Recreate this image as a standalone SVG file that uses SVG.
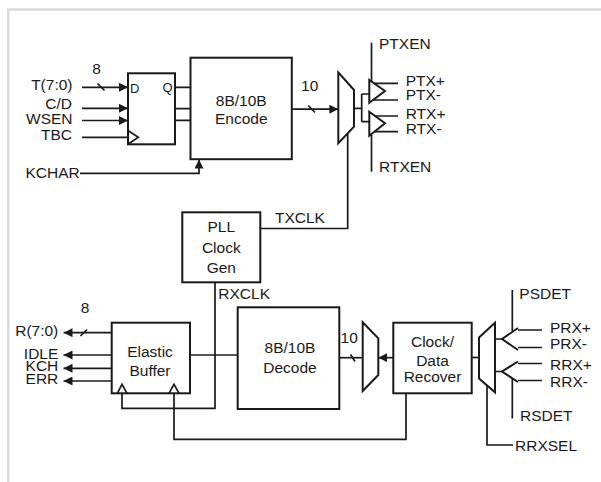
<svg xmlns="http://www.w3.org/2000/svg" width="601" height="482" viewBox="0 0 601 482">
<style>
text{font-family:"Liberation Sans",Arial,sans-serif;font-size:15.5px;fill:#1a1a1a}
.box{fill:#fff;stroke:#1a1a1a;stroke-width:2}
.sh{fill:#fff;stroke:#1a1a1a;stroke-width:2;stroke-linejoin:miter}
.ln{fill:none;stroke:#1a1a1a;stroke-width:1.7}
.m{text-anchor:middle}
.e{text-anchor:end}
.pin{font-size:13px}
</style>
<defs>
<marker id="ah" markerUnits="userSpaceOnUse" markerWidth="9" markerHeight="9" refX="9" refY="4.5" orient="auto">
<path d="M0,0 L9,4.5 L0,9 z" fill="#1a1a1a"/>
</marker>
</defs>
<rect width="601" height="482" fill="#fff"/>
<path d="M8.3,482 V9.5 H601" fill="none" stroke="#dadada" stroke-width="2.3"/>

<g id="connectors">
<path class="ln" d="M82,87.3 H128" marker-end="url(#ah)"/>
<path class="ln" d="M97.5,83.5 L104.5,90.5"/>
<path class="ln" d="M82,108.3 H128" marker-end="url(#ah)"/>
<path class="ln" d="M82,120.5 H128" marker-end="url(#ah)"/>
<path class="ln" d="M82,137.3 H128"/>
<path class="ln" d="M80,173.3 H199 V159.5" marker-end="url(#ah)"/>
<path class="ln" d="M175,87.3 H190.5 M175,108.7 H190.5 M175,120.3 H190.5"/>
<path class="ln" d="M292,109.2 H338.3" marker-end="url(#ah)"/>
<path class="ln" d="M308.3,105.5 L315,112.5"/>
<path class="ln" d="M354,108.3 H361.7 M361.7,94 V121.7 M361.7,94 H369.3 M361.7,121.7 H369.3"/>
<path class="ln" d="M371.5,42.7 V81"/>
<path class="ln" d="M371.5,135 V171.7"/>
<path class="ln" d="M374,83.3 H398 M373,100 H398 M375,116 H398 M374,131.7 H398"/>
<path class="ln" d="M347.7,133.5 V228.5 H260.3"/>
<path class="ln" d="M215,282.3 V408.3 H122 V393.3"/>
<path class="ln" d="M112,332.7 H63.5" marker-end="url(#ah)"/>
<path class="ln" d="M80.5,336 L87,329.5"/>
<path class="ln" d="M112,355 H63.5" marker-end="url(#ah)"/>
<path class="ln" d="M112,368.3 H63.5" marker-end="url(#ah)"/>
<path class="ln" d="M112,381 H63.5" marker-end="url(#ah)"/>
<path class="ln" d="M190,355 H237.7"/>
<path class="ln" d="M174,393.3 V439.3 H406 V393.3"/>
<path class="ln" d="M363,357.7 H339.3"/>
<path class="ln" d="M350.5,354.5 L355,361.5"/>
<path class="ln" d="M393.3,357.7 H378.3" marker-end="url(#ah)"/>
<path class="ln" d="M471.7,357.5 H479"/>
<path class="ln" d="M495,339 H502 M495,371.5 H502"/>
<path class="ln" d="M515,330 H542 M515,347.5 H542 M515,363.5 H542 M515,380.5 H542"/>
<path class="ln" d="M512.3,290 V331"/>
<path class="ln" d="M512.3,379 V418.5"/>
<path class="ln" d="M487,385.4 V445 H513"/>
</g>

<g id="labels">
<text x="96.5" y="74" class="m">8</text>
<text x="72.5" y="90" class="e">T(7:0)</text>
<text x="72" y="108.7" class="e">C/D</text>
<text x="72.5" y="124" class="e">WSEN</text>
<text x="72" y="139.7" class="e">TBC</text>
<text x="25.5" y="178.3">KCHAR</text>
<text x="309.7" y="91" class="m">10</text>
<text x="379" y="49">PTXEN</text>
<text x="405.7" y="85.7">PTX+</text>
<text x="405.7" y="100">PTX-</text>
<text x="405.7" y="119.3">RTX+</text>
<text x="405.7" y="134">RTX-</text>
<text x="379" y="171.7">RTXEN</text>
<text x="275" y="223.3">TXCLK</text>
<text x="218.3" y="299">RXCLK</text>
<text x="85" y="313.3" class="m">8</text>
<text x="58.3" y="336" class="e">R(7:0)</text>
<text x="58.3" y="359" class="e">IDLE</text>
<text x="58.3" y="371.3" class="e">KCH</text>
<text x="58.3" y="384.2" class="e">ERR</text>
<text x="349.2" y="343.3" class="m">10</text>
<text x="519.3" y="299.3">PSDET</text>
<text x="550" y="332.7">PRX+</text>
<text x="550" y="349">PRX-</text>
<text x="550" y="370">RRX+</text>
<text x="550" y="387.3">RRX-</text>
<text x="520" y="420.7">RSDET</text>
<text x="515" y="451">RRXSEL</text>
</g>

<g id="ff">
<rect class="box" x="128" y="73.3" width="47" height="71"/>
<path class="ln" d="M128.3,130.7 L138.3,137.3 L128.3,144"/>
<text x="130" y="92.5" class="pin">D</text>
<text x="172.5" y="92" class="pin e">Q</text>
</g>

<g id="encode">
<rect class="box" x="190.5" y="57.7" width="101.3" height="101.5"/>
<text x="241.3" y="106" class="m">8B/10B</text>
<text x="241.3" y="124" class="m">Encode</text>
</g>

<g id="mux-tx">
<path class="sh" d="M338.3,72.3 L354,90 L354,126.7 L338.3,143.3 Z"/>
</g>

<g id="ptx-driver">
<path class="sh" d="M369.3,80 L385,91 L369.3,102.7 Z" fill="none"/>
</g>
<g id="rtx-driver">
<path class="sh" d="M369.3,111.7 L385,123.3 L369.3,135.7 Z" fill="none"/>
</g>

<g id="pll">
<rect class="box" x="182.3" y="212.3" width="78" height="70"/>
<text x="221.3" y="232.3" class="m">PLL</text>
<text x="221.3" y="253.3" class="m">Clock</text>
<text x="221.3" y="272.7" class="m">Gen</text>
</g>

<g id="elastic">
<rect class="box" x="111.7" y="322.7" width="78.3" height="70.6"/>
<path class="ln" d="M117.3,393.3 L122,384.3 L127,393.3 M169,393.3 L174,384.3 L179,393.3"/>
<text x="150" y="356.5" class="m">Elastic</text>
<text x="150" y="375.5" class="m">Buffer</text>
</g>

<g id="decode">
<rect class="box" x="237.7" y="307.3" width="101.6" height="101.7"/>
<text x="290" y="353.3" class="m">8B/10B</text>
<text x="290" y="373.3" class="m">Decode</text>
</g>

<g id="mux-rx">
<path class="sh" d="M362.7,322.3 L378.3,338.3 L378.3,375 L362.7,391 Z"/>
</g>

<g id="cdr">
<rect class="box" x="393.3" y="322.7" width="78.4" height="70.6"/>
<text x="432.5" y="346.5" class="m">Clock/</text>
<text x="432.5" y="365.5" class="m">Data</text>
<text x="432.5" y="382" class="m">Recover</text>
</g>

<g id="mux-in">
<path class="sh" d="M479,337.5 L495,322.7 L495,392.3 L479,378.5 Z"/>
</g>

<g id="prx-receiver">
<path class="sh" d="M518,328 L502,339 L518,350" fill="none"/>
</g>
<g id="rrx-receiver">
<path class="sh" d="M518,361.5 L502,371.5 L518,382" fill="none"/>
</g>
</svg>
